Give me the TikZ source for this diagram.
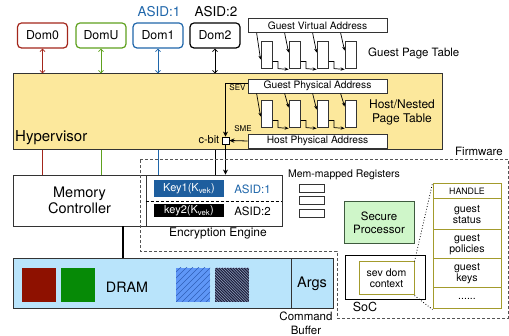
\documentclass[tikz,border=0pt]{standalone}
\usepackage{fontspec}
\setmainfont{TeX Gyre Heros}
\usetikzlibrary{arrows.meta,calc}
\definecolor{domred}{HTML}{A3261B}
\definecolor{domgreen}{HTML}{5EA11E}
\definecolor{domblue}{HTML}{1F66AA}
\definecolor{hvfill}{HTML}{FCE89C}
\definecolor{keyblue}{HTML}{1E5E9E}
\definecolor{dramfill}{HTML}{B9E4FB}
\definecolor{spfill}{HTML}{CFF6C9}
\definecolor{spdraw}{HTML}{3E5A3E}
\definecolor{olive}{HTML}{A39B2C}
\definecolor{fwgray}{HTML}{555555}
\definecolor{sqred}{HTML}{8E1100}
\definecolor{sqgreen}{HTML}{068A06}
\definecolor{hatchblue}{HTML}{5F97F7}
\definecolor{hatchblueline}{HTML}{2F5FB8}
\definecolor{hatchdark}{HTML}{1B1F3A}
\definecolor{hatchdarkline}{HTML}{9AA6C8}
\definecolor{edge}{HTML}{333333}
\newcommand\fsz[1]{\fontsize{#1}{#1}\selectfont}
\begin{document}
\begin{tikzpicture}[x=1pt,y=-1pt,
  dombox/.style={draw=#1, rounded corners=4pt, line width=1.2pt, fill=white, minimum width=50pt, minimum height=25pt, inner sep=0pt, font=\fsz{12.3}},
  domarrow/.style={{Straight Barb[length=2.5pt,width=5pt]}-{Straight Barb[length=2.5pt,width=5pt]}, line width=0.8pt, draw=#1},
  addrbox/.style={draw=edge, line width=0.8pt, fill=white, minimum width=139pt, minimum height=14pt, inner sep=0pt, font=\fsz{10.2}},
  ptbar/.style={draw=edge, line width=0.8pt, fill=white, minimum width=11.5pt, minimum height=27pt, inner sep=0pt},
  walk/.style={-{Stealth[length=4pt,width=3.2pt]}, line width=0.7pt},
  plainbox/.style={draw=edge, line width=0.8pt, fill=white, inner sep=0pt},
  lbl/.style={inner sep=0pt, font=\fsz{#1}},
  tblrow/.style={draw=olive, line width=1pt, fill=white, minimum width=68pt, inner sep=0pt, align=center, font=\fsz{10.6}},
  sq/.style={minimum width=34pt, minimum height=34pt, inner sep=0pt},
  fw/.style={draw=fwgray, line width=0.9pt, dash pattern=on 3pt off 2pt}
]
\useasboundingbox (0,0) rectangle (509,336);

% Hypervisor
\node[draw=edge, line width=1pt, fill=hvfill, minimum width=429pt, minimum height=76pt, inner sep=0pt] (hv) at (227.5,112) {};
\node[lbl=15, anchor=west] (hvl) at (15,138) {Hypervisor};

% Domains
\node[dombox=domred] (dom0) at (42.5,35.5) {Dom0};
\node[dombox=domgreen] (domu) at (101,35.5) {DomU};
\node[dombox=domblue] (dom1) at (158,35.5) {Dom1};
\node[dombox=black] (dom2) at (215,35.5) {Dom2};
\node[lbl=13.5, text=domblue] (asid1t) at (159,12) {ASID:1};
\node[lbl=13.5] (asid2t) at (216,12) {ASID:2};

\draw[domarrow=domred] (dom0.south) -- (dom0 |- hv.north);
\draw[domarrow=domgreen] (domu.south) -- (domu |- hv.north);
\draw[domarrow=domblue] (dom1.south) -- (dom1 |- hv.north);
\draw[domarrow=black] (dom2.south) -- (dom2 |- hv.north);

% Guest page table
\node[addrbox] (gva) at (317.5,25.5) {Guest Virtual Address};
\node[ptbar] (gb1) at (266.75,54.5) {};
\node[ptbar] (gb2) at (294.75,54.5) {};
\node[ptbar] (gb3) at (322.75,54.5) {};
\node[ptbar] (gb4) at (350.75,54.5) {};
\node[lbl=11.5, anchor=west] (gptl) at (368,53) {Guest Page Table};

\draw[walk] ($(gb1.west |- gva.south)+(-4,0)$) -- ($(gb1.north west)+(0,19)$);
\draw[walk] ($(gb2.west |- gva.south)+(-4,0)$) -- ($(gb2.north west)+(0,12)$);
\draw[walk] ($(gb3.west |- gva.south)+(-4,0)$) -- ($(gb3.north west)+(0,12)$);
\draw[walk] ($(gb4.west |- gva.south)+(-4,0)$) -- ($(gb4.north west)+(0,10)$);
\draw[walk] ($(gb1.north east)+(0,21)$) -- ++(5,0) -- ++(0,7) -- ($(gb2.south west)+(0,1)$);
\draw[walk] ($(gb2.north east)+(0,21)$) -- ++(5,0) -- ++(0,7) -- ($(gb3.south west)+(0,1)$);
\draw[walk] ($(gb3.north east)+(0,21)$) -- ++(5,0) -- ++(0,7) -- ($(gb4.south west)+(0,1)$);

% Nested page table
\node[addrbox] (gpa) at (317.5,86) {Guest Physical Address};
\node[ptbar] (nb1) at (266.75,113.5) {};
\node[ptbar] (nb2) at (294.75,113.5) {};
\node[ptbar] (nb3) at (322.75,113.5) {};
\node[ptbar] (nb4) at (350.75,113.5) {};
\node[lbl=12, align=center] (nptl) at (402,112) {Host/Nested\\[2pt]Page Table};
\node[addrbox] (hpa) at (317.5,141) {Host Physical Address};

\draw[walk] ($(nb1.west |- gpa.south)+(-4,0)$) -- ($(nb1.north west)+(0,17)$);
\draw[walk] ($(nb2.west |- gpa.south)+(-4,0)$) -- ($(nb2.north west)+(0,8)$);
\draw[walk] ($(nb3.west |- gpa.south)+(-4,0)$) -- ($(nb3.north west)+(0,10)$);
\draw[walk] ($(nb4.west |- gpa.south)+(-4,0)$) -- ($(nb4.north west)+(0,7)$);
\draw[walk] ($(nb1.north east)+(0,21)$) -- ++(5,0) -- ++(0,7) -- ($(nb2.south west)+(0,1)$);
\draw[walk] ($(nb2.north east)+(0,21)$) -- ++(5,0) -- ++(0,7) -- ($(nb3.south west)+(0,1)$);
\draw[walk] ($(nb3.north east)+(0,21)$) -- ++(5,0) -- ++(0,7) -- ($(nb4.south west)+(0,1)$);

% c-bit
\node[draw=black, line width=0.8pt, fill=white, minimum size=7pt, inner sep=0pt] (cbit) at (225.5,140.5) {};
\node[lbl=11, anchor=east] (cbitl) at (219.5,140) {c-bit};
\node[lbl=8] (sevl) at (237.5,88) {SEV};
\node[lbl=8] (smel) at (243,128.5) {SME};
\draw[-{Stealth[length=5pt,width=5pt]}, line width=0.8pt] ($(gpa.west)+(0,-3)$) -| (cbit.north);
\draw[-{Stealth[length=5pt,width=4.5pt]}, line width=0.8pt] (hpa.west) -- (cbit.east);

% Memory controller and keys
\node[plainbox, minimum width=133pt, minimum height=51pt, align=center, font=\fsz{14.5}] (mc) at (79.5,200.5) {Memory\\[1pt]Controller};
\node[plainbox, minimum width=136pt, minimum height=51pt] (keybox) at (214,200.5) {};
\draw[line width=0.8pt, dash pattern=on 3pt off 2pt] ($(keybox.west)+(0,0.5)$) -- ($(keybox.east)+(0,0.5)$);
\node[fill=keyblue, text=white, minimum width=70pt, minimum height=17pt, inner sep=0pt, font=\fsz{11}] (key1) at (189,188.5) {Key1(K\textsubscript{vek})};
\node[fill=black, text=white, minimum width=70pt, minimum height=13pt, inner sep=0pt, font=\fsz{11}] (key2) at (189,210.5) {key2(K\textsubscript{vek})};
\node[lbl=11.5, text=domblue] (asid1k) at (252.5,189) {ASID:1};
\node[lbl=11.5] (asid2k) at (252.5,211) {ASID:2};
\node[lbl=12] (eel) at (218,233) {Encryption Engine};

\draw[domred, line width=1pt] (dom0 |- hv.south) -- (dom0 |- mc.north);
\draw[domgreen, line width=1pt] (domu |- hv.south) -- (domu |- mc.north);
\draw[domblue, line width=1pt] (dom1 |- hv.south) -- (dom1 |- keybox.north);
\draw[black, line width=1pt] (dom2 |- hv.south) -- (dom2 |- keybox.north);
\draw[-{Stealth[length=5pt,width=5pt]}, line width=0.8pt] (cbit.south) -- (cbit |- keybox.north);

% Registers / secure processor
\node[lbl=10.5] (mmrl) at (344,175) {Mem-mapped Registers};
\node[plainbox, minimum width=25pt, minimum height=8pt] (r1) at (311.5,188) {};
\node[plainbox, minimum width=25pt, minimum height=8pt] (r2) at (311.5,200.5) {};
\node[plainbox, minimum width=25pt, minimum height=8pt] (r3) at (311.5,213) {};
\node[draw=spdraw, line width=1pt, fill=spfill, minimum width=70pt, minimum height=42pt, inner sep=0pt, align=center, font=\fsz{11.5}] (sp) at (379,223) {Secure\\[1pt]Processor};

% SoC
\node[draw=black, line width=0.9pt, minimum width=80pt, minimum height=44pt, inner sep=0pt] (soc) at (385,277) {};
\node[lbl=12.5] (socl) at (365,307) {SoC};
\node[draw=olive, line width=1pt, fill=white, minimum width=55pt, minimum height=33pt, inner sep=0pt, align=center, font=\fsz{10.5}] (sev) at (386.5,278.5) {sev dom\\[1pt]context};

% table
\node[tblrow, minimum height=15pt, font=\fsz{8.8}] (t1) at (467,191.5) {HANDLE};
\node[tblrow, minimum height=31pt] (t2) at (467,214.5) {guest\\[1pt]status};
\node[tblrow, minimum height=29pt] (t3) at (467,244.5) {guest\\[1pt]policies};
\node[tblrow, minimum height=29pt] (t4) at (467,273.5) {guest\\[1pt]keys};
\node[tblrow, minimum height=21pt] (t5) at (467,298.5) {......};
\draw[line width=0.8pt, dotted] (sev.north east) -- (t1.north west);
\draw[line width=0.8pt, dotted] (sev.south east) -- (t5.south west);

% DRAM
\node[draw=edge, line width=1pt, fill=dramfill, minimum width=278pt, minimum height=50pt, inner sep=0pt] (dram) at (152,284) {};
\node[draw=edge, line width=1pt, fill=dramfill, minimum width=42pt, minimum height=50pt, inner sep=0pt, font=\fsz{14.5}] (args) at (312,284) {Args};
\node[lbl=14.3] (draml) at (127,287) {DRAM};
\node[sq, fill=sqred] (sq1) at (39,285) {};
\node[sq, fill=sqgreen] (sq2) at (78,285) {};
\node[sq, fill=hatchblue, path picture={
  \foreach \i in {-48,-42,...,48}
    \draw[hatchblueline, line width=0.7pt] ($(path picture bounding box.center)+(\i,0)+(-25,25)$) -- ++(50,-50);
}] (sq3) at (193,285) {};
\node[sq, fill=hatchdark, path picture={
  \foreach \i in {-48,-45.2,...,48}
    \draw[hatchdarkline, line width=0.55pt] ($(path picture bounding box.center)+(\i,0)+(-25,-25)$) -- ++(50,50);
}] (sq4) at (232,285) {};
\node[lbl=11.5, align=center] (cbl) at (306,323.5) {Command\\[2pt]Buffer};
\draw[line width=2pt] ($(mc.south west)+(110,0)$) -- ($(mc.south west |- dram.north)+(110,0)$);

% Firmware region
\draw[fw] (140,159) -- (508,159) -- (508,318) -- (337,318) -- (337,251) -- (140,251) -- cycle;
\node[lbl=11.5] (fwl) at (479,151) {Firmware};
\end{tikzpicture}
\end{document}
